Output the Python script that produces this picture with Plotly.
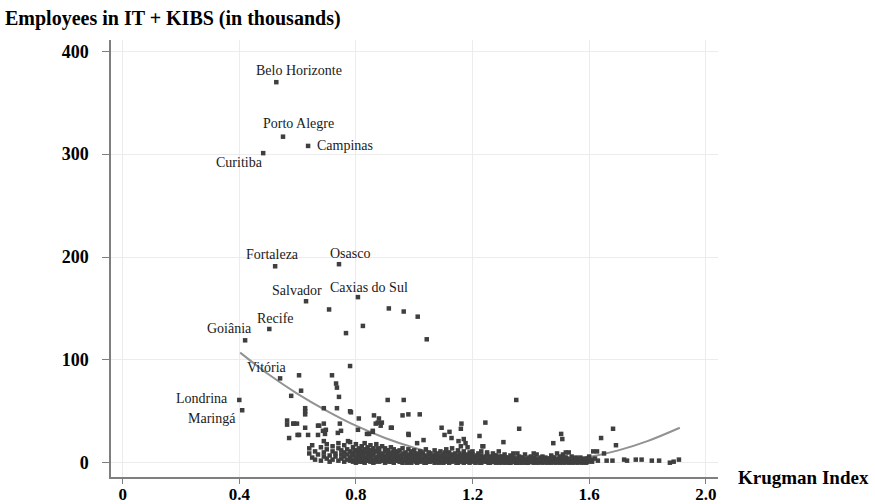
import plotly.graph_objects as go

# Labelled cities (x = Krugman Index, y = employees in thousands)
city_names = ["Belo Horizonte", "Porto Alegre", "Campinas", "Curitiba", "Fortaleza", "Osasco",
              "Salvador", "Caxias do Sul", "Recife", "Goiânia", "Vitória", "Londrina", "Maringá"]
city_x = [0.527, 0.550, 0.636, 0.482, 0.523, 0.742, 0.629, 0.807, 0.503, 0.420, 0.540, 0.400, 0.410]
city_y = [370, 317, 308, 301, 191, 193, 157, 161, 130, 119, 82, 61, 51]

# Other (unlabelled) cities, sparse part
sparse_x = [0.708, 0.913, 0.964, 1.012, 0.824, 0.766, 1.043, 0.780, 0.605, 0.718, 0.732, 0.735,
            0.612, 0.578, 0.742, 0.909, 0.964, 0.626, 0.690, 0.735, 0.780, 0.626, 0.960, 0.980,
            1.019, 0.810, 0.862, 0.879, 0.889, 0.564, 0.564, 0.588, 0.598, 0.626, 0.670, 0.690,
            0.697, 0.745, 0.738, 0.571, 0.605, 0.636, 0.670, 0.690, 0.807, 0.838, 0.858, 0.868,
            0.923, 0.981, 1.032, 1.094, 1.104, 1.121, 1.162, 1.244, 1.224, 1.350, 1.360, 1.306,
            1.234, 1.504, 1.508, 1.477, 1.641, 1.682, 1.692, 1.651, 1.614, 1.627, 1.354, 1.410,
            1.520, 1.010, 1.128, 1.160, 1.152, 1.170, 1.176, 1.183, 1.200, 1.237, 0.585, 0.600,
            0.674, 0.687, 0.694, 0.749, 0.773, 0.783, 0.875, 0.885, 0.858, 0.920, 0.845, 0.980,
            0.626, 1.660, 1.680, 1.720, 1.730, 1.760, 1.780, 1.815, 1.840, 1.877, 1.890, 1.908]
sparse_y = [149, 150, 147, 142, 133, 126, 120, 94, 85, 85, 77, 73,
            70, 65, 64, 61, 61, 53, 53, 53, 50, 47, 46, 47,
            47, 43, 46, 43, 39, 41, 37, 38, 38, 34, 36, 38,
            32, 38, 29, 24, 27, 27, 27, 21, 32, 28, 30, 38,
            34, 27, 22, 34, 27, 30, 38, 39, 26, 61, 33, 20,
            16, 28, 23, 19, 24, 33, 17, 9, 11, 11, 9, 9,
            10, 19, 24, 33, 21, 23, 19, 15, 11, 16, 38, 27,
            36, 31, 28, 31, 21, 49, 39, 36, 31, 34, 28, 28,
            50, 2, 2, 3, 2, 3, 3, 2, 2, 0, 1, 3]

# Dense cluster of small cities near the bottom
dense_x = [0.64, 0.64, 0.65, 0.65, 0.66, 0.66, 0.67, 0.68, 0.68, 0.69, 0.69,
           0.70, 0.70, 0.70, 0.71, 0.71, 0.72, 0.72, 0.72, 0.73, 0.73, 0.74, 0.74, 0.74,
           0.75, 0.75, 0.75, 0.76, 0.76, 0.76, 0.76, 0.77, 0.77, 0.77, 0.78, 0.78, 0.78, 0.78,
           0.79, 0.79, 0.79, 0.79, 0.80, 0.80, 0.80, 0.80, 0.81, 0.81, 0.81, 0.81,
           0.82, 0.82, 0.82, 0.82, 0.82, 0.83, 0.83, 0.83, 0.83, 0.84, 0.84, 0.84, 0.84,
           0.85, 0.85, 0.85, 0.85, 0.85, 0.86, 0.86, 0.86, 0.86, 0.87, 0.87, 0.87, 0.87,
           0.88, 0.88, 0.88, 0.88, 0.89, 0.89, 0.89, 0.89, 0.90, 0.90, 0.90, 0.90,
           0.91, 0.91, 0.91, 0.91, 0.92, 0.92, 0.92, 0.92, 0.93, 0.93, 0.93, 0.93,
           0.94, 0.94, 0.94, 0.95, 0.95, 0.95, 0.95, 0.96, 0.96, 0.96, 0.96, 0.97, 0.97, 0.97,
           0.98, 0.98, 0.98, 0.98, 0.99, 0.99, 0.99, 0.99, 1.00, 1.00, 1.00, 1.00,
           1.01, 1.01, 1.01, 1.02, 1.02, 1.02, 1.02, 1.03, 1.03, 1.03, 1.04, 1.04, 1.04,
           1.05, 1.05, 1.05, 1.05, 1.06, 1.06, 1.06, 1.07, 1.07, 1.07, 1.08, 1.08, 1.08, 1.08,
           1.09, 1.09, 1.09, 1.10, 1.10, 1.10, 1.10, 1.11, 1.11, 1.11, 1.12, 1.12, 1.12, 1.12,
           1.13, 1.13, 1.13, 1.14, 1.14, 1.14, 1.15, 1.15, 1.15, 1.15, 1.16, 1.16, 1.16,
           1.17, 1.17, 1.17, 1.17, 1.18, 1.18, 1.18, 1.19, 1.19, 1.19, 1.20, 1.20, 1.20,
           1.21, 1.21, 1.21, 1.21, 1.22, 1.22, 1.22, 1.23, 1.23, 1.23, 1.23, 1.24, 1.24, 1.24,
           1.25, 1.25, 1.25, 1.26, 1.26, 1.26, 1.26, 1.27, 1.27, 1.27, 1.28, 1.28, 1.28,
           1.29, 1.29, 1.29, 1.30, 1.30, 1.30, 1.31, 1.31, 1.31, 1.32, 1.32, 1.32,
           1.33, 1.33, 1.33, 1.34, 1.34, 1.34, 1.35, 1.35, 1.35, 1.36, 1.36, 1.36,
           1.37, 1.37, 1.37, 1.38, 1.38, 1.38, 1.39, 1.39, 1.39, 1.40, 1.40,
           1.41, 1.41, 1.41, 1.42, 1.42, 1.43, 1.43, 1.43, 1.44, 1.44, 1.45, 1.45, 1.45,
           1.46, 1.46, 1.47, 1.47, 1.47, 1.48, 1.48, 1.49, 1.49, 1.49, 1.50, 1.50, 1.50,
           1.51, 1.51, 1.51, 1.52, 1.52, 1.53, 1.53, 1.53, 1.54, 1.54, 1.55, 1.55,
           1.56, 1.56, 1.57, 1.57, 1.58, 1.58, 1.59, 1.59, 1.60, 1.60, 1.61, 1.61, 1.62, 1.63]
dense_y = [14, 9, 5, 17, 11, 3, 8, 15, 2, 10, 6,
           13, 4, 18, 7, 1, 11, 16, 3, 6, 9, 14, 2, 19,
           8, 4, 12, 17, 1, 6, 10, 3, 13, 8, 20, 5, 11, 2,
           15, 7, 1, 9, 18, 12, 4, 0, 6, 14, 2, 10,
           16, 8, 3, 11, 1, 19, 5, 13, 0, 9, 2, 15, 6,
           12, 4, 17, 1, 8, 14, 7, 0, 10, 3, 11, 18, 5,
           9, 1, 13, 6, 16, 4, 8, 2, 11, 0, 14, 6,
           5, 9, 2, 12, 15, 7, 1, 3, 10, 4, 13, 0,
           6, 2, 9, 12, 1, 7, 4, 3, 14, 8, 0, 10, 5, 2,
           7, 13, 1, 4, 9, 3, 0, 11, 6, 2, 12, 4,
           8, 0, 5, 11, 3, 1, 7, 4, 9, 2, 13, 6, 0,
           3, 8, 1, 10, 5, 2, 7, 12, 0, 4, 6, 9, 2, 1,
           3, 11, 5, 8, 1, 4, 0, 6, 13, 2, 10, 3, 0, 5,
           7, 1, 14, 4, 9, 2, 12, 0, 6, 3, 5, 16, 1,
           8, 2, 11, 0, 4, 7, 1, 10, 3, 0, 6, 2, 8,
           1, 5, 0, 3, 9, 2, 4, 7, 0, 11, 1, 3, 5, 2,
           8, 1, 10, 4, 0, 6, 2, 9, 3, 1, 5, 7, 0,
           2, 11, 4, 6, 1, 3, 8, 0, 2, 4, 5, 1,
           3, 7, 0, 9, 2, 5, 1, 4, 0, 6, 2, 3,
           0, 5, 1, 3, 8, 2, 4, 0, 1, 2, 6,
           5, 1, 0, 3, 8, 1, 4, 2, 0, 6, 3, 2, 5,
           1, 4, 7, 0, 2, 3, 5, 1, 9, 2, 4, 0, 6,
           2, 8, 3, 5, 1, 3, 10, 0, 2, 6, 4, 1,
           0, 3, 2, 5, 1, 3, 4, 0, 2, 6, 1, 3, 4, 2]

# More of the dense cluster (cities between the columns above)
dense2_x = [0.785, 0.785, 0.795, 0.795, 0.805, 0.805, 0.815, 0.815, 0.825, 0.825, 0.835, 0.835,
            0.845, 0.845, 0.855, 0.855, 0.865, 0.865, 0.875, 0.875, 0.885, 0.885, 0.895, 0.895,
            0.905, 0.905, 0.915, 0.915, 0.925, 0.925, 0.935, 0.935, 0.945, 0.945, 0.955, 0.955,
            0.965, 0.965, 0.975, 0.975, 0.985, 0.985, 0.995, 0.995, 1.005, 1.005, 1.015, 1.015,
            1.025, 1.025, 1.035, 1.035, 1.045, 1.045, 1.055, 1.055, 1.065, 1.065, 1.075, 1.075,
            1.085, 1.085, 1.095, 1.095, 1.105, 1.105, 1.115, 1.115, 1.125, 1.125, 1.135, 1.135,
            1.145, 1.145, 1.155, 1.155, 1.165, 1.165, 1.175, 1.175, 1.185, 1.185, 1.195, 1.195,
            1.205, 1.205, 1.215, 1.215, 1.225, 1.225, 1.235, 1.235, 1.245, 1.245, 1.255, 1.255,
            1.265, 1.265, 1.275, 1.275, 1.285, 1.285, 1.295, 1.295, 1.305, 1.305, 1.315, 1.315,
            1.325, 1.325, 1.335, 1.335, 1.345, 1.345, 1.355, 1.355, 1.365, 1.365, 1.375, 1.375,
            1.385, 1.385, 1.395, 1.395, 1.405, 1.405, 1.415, 1.415, 1.425, 1.425, 1.435, 1.435,
            1.445, 1.445, 1.455, 1.455, 1.465, 1.465, 1.475, 1.475, 1.485, 1.485, 1.495, 1.495,
            1.505, 1.505, 1.515, 1.515, 1.525, 1.525, 1.535, 1.535, 1.545, 1.545, 1.555, 1.555,
            1.565, 1.565, 1.575, 1.575, 1.585, 1.585, 1.595, 1.595]
dense2_y = [3, 8, 12, 2, 6, 9, 1, 13, 7, 4, 10, 2,
            5, 12, 3, 8, 11, 1, 6, 14, 2, 9, 7, 4,
            12, 3, 1, 8, 5, 10, 2, 7, 11, 4, 6, 1,
            3, 9, 8, 0, 5, 2, 7, 3, 1, 9, 4, 6,
            2, 10, 7, 0, 3, 5, 9, 1, 4, 6, 2, 8,
            5, 0, 7, 3, 1, 10, 4, 6, 8, 2, 3, 5,
            6, 0, 2, 9, 4, 7, 1, 5, 3, 8, 6, 1,
            4, 2, 7, 3, 0, 5, 2, 4, 6, 1, 3, 0,
            5, 2, 1, 7, 3, 4, 0, 6, 2, 4, 5, 1,
            3, 0, 1, 6, 4, 2, 0, 3, 2, 5, 1, 4,
            3, 0, 2, 5, 1, 3, 4, 2, 0, 2, 3, 5,
            1, 2, 4, 0, 2, 3, 1, 5, 3, 0, 2, 4,
            1, 3, 5, 0, 2, 4, 1, 3, 0, 4, 2, 5,
            1, 3, 4, 0, 2, 3, 1, 4]

# Quadratic fit line
fit_x = [0.403, 0.50, 0.60, 0.70, 0.80, 0.90, 1.00, 1.10, 1.20, 1.30, 1.40, 1.50, 1.60, 1.70, 1.80, 1.911]
fit_y = [107, 86, 67, 50.5, 36, 24, 14.5, 7, 2, -0.5, -0.8, 1.2, 5.5, 12, 21, 34]

x_tick_vals = [0, 0.4, 0.8, 1.2, 1.6, 2.0]
x_tick_text = ["0", "0.4", "0.8", "1.2", "1.6", "2.0"]
y_tick_vals = [0, 100, 200, 300, 400]
y_tick_text = ["0", "100", "200", "300", "400"]

SERIF = "Liberation Serif"
PT = "#3f3f3f"
MK = dict(symbol="square", size=4.5, color=PT, line=dict(width=0))

fig = go.Figure()
fig.add_trace(go.Scatter(x=fit_x, y=fit_y, mode="lines", line=dict(color="#929292", width=2, shape="spline"),
                         hoverinfo="skip", showlegend=False))
fig.add_trace(go.Scatter(x=dense_x, y=dense_y, mode="markers", marker=MK, showlegend=False))
fig.add_trace(go.Scatter(x=dense2_x, y=dense2_y, mode="markers", marker=MK, showlegend=False))
fig.add_trace(go.Scatter(x=sparse_x, y=sparse_y, mode="markers", marker=MK, showlegend=False))
fig.add_trace(go.Scatter(x=city_x, y=city_y, mode="markers", text=city_names, marker=MK, showlegend=False))

# label placement (pixel offsets from the point)
label_style = {
    "Belo Horizonte": ("center", 23, 12),
    "Porto Alegre": ("center", 15, 13),
    "Campinas": ("left", 7, 0),
    "Curitiba": ("right", 2, -9),
    "Fortaleza": ("center", -3, 12),
    "Osasco": ("center", 11, 11),
    "Salvador": ("center", -9, 11),
    "Caxias do Sul": ("center", 11, 10),
    "Recife": ("center", 6, 11),
    "Goiânia": ("center", -16, 12),
    "Vitória": ("center", -13, 11),
    "Londrina": ("right", -9, 1),
    "Maringá": ("right", -4, -8),
}
for name, cx, cy in zip(city_names, city_x, city_y):
    anc, dx, dy = label_style[name]
    fig.add_annotation(x=cx, y=cy, text=name, showarrow=False, xanchor=anc, yanchor="middle",
                       xshift=dx, yshift=dy, font=dict(family=SERIF, size=14, color="#1a1a1a"))

fig.add_annotation(xref="paper", yref="paper", x=1.03, y=0, text="Krugman Index", showarrow=False,
                   xanchor="left", yanchor="middle", font=dict(family=SERIF, size=19, color="black", weight="bold"))

fig.update_layout(
    width=875, height=504, autosize=False,
    margin=dict(l=111, r=157, t=40, b=27, pad=0),
    plot_bgcolor="white", paper_bgcolor="white",
    title=dict(text="Employees in IT + KIBS (in thousands)", x=5 / 875, xanchor="left",
               y=1 - 18 / 504, yanchor="middle", font=dict(family=SERIF, size=20, color="black", weight="bold")),
    xaxis=dict(range=[-0.040, 2.042], tickvals=x_tick_vals, ticktext=x_tick_text, showgrid=True,
               gridcolor="#ececec", gridwidth=1, zeroline=False, showline=True, linecolor="#7f7f7f",
               linewidth=1.5, ticks="outside", ticklen=5, tickcolor="#7f7f7f", automargin=False,
               ticklabelstandoff=-4,
               tickfont=dict(family=SERIF, size=17, color="black", weight="bold")),
    yaxis=dict(range=[-13.9, 411], tickvals=y_tick_vals, ticktext=y_tick_text, showgrid=True,
               gridcolor="#ececec", gridwidth=1, zeroline=False, showline=True, linecolor="#7f7f7f",
               linewidth=1.5, ticks="outside", ticklen=7, tickcolor="#7f7f7f", automargin=False,
               ticklabelstandoff=10,
               tickfont=dict(family=SERIF, size=18, color="black", weight="bold")),
)

fig.write_html("out.html", config={"displayModeBar": False},
               post_script="document.body.style.margin='0px';")
